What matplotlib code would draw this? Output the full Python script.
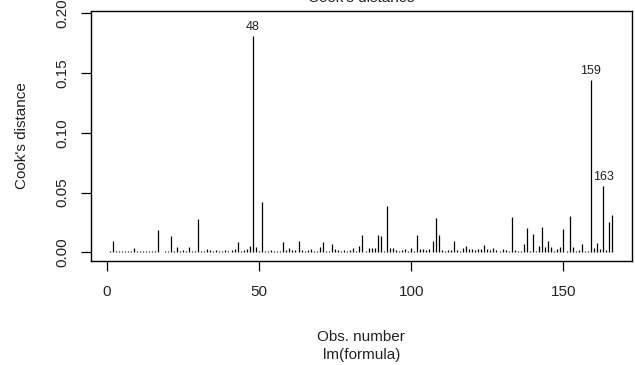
import numpy as np
import matplotlib
matplotlib.use('Agg')
import matplotlib.pyplot as plt

plt.rcParams['font.family'] = ['Liberation Sans', 'DejaVu Sans']

# Cook's distance for each observation of lm(formula), obs 1..166
cooks = [
    0.0010, 0.0095, 0.0008, 0.0012, 0.0012, 0.0015, 0.0012, 0.0012, 0.0035, 0.0015,
    0.0012, 0.0015, 0.0012, 0.0010, 0.0012, 0.0008, 0.0188, 0.0006, 0.0010, 0.0015,
    0.0140, 0.0015, 0.0046, 0.0010, 0.0020, 0.0012, 0.0043, 0.0015, 0.0008, 0.0280,
    0.0010, 0.0015, 0.0025, 0.0018, 0.0010, 0.0018, 0.0015, 0.0010, 0.0018, 0.0010,
    0.0022, 0.0030, 0.0087, 0.0015, 0.0020, 0.0025, 0.0054, 0.1810, 0.0044, 0.0010,
    0.0425, 0.0010, 0.0012, 0.0018, 0.0012, 0.0008, 0.0015, 0.0087, 0.0020, 0.0034,
    0.0020, 0.0020, 0.0098, 0.0020, 0.0008, 0.0018, 0.0030, 0.0008, 0.0012, 0.0047,
    0.0087, 0.0010, 0.0010, 0.0069, 0.0030, 0.0020, 0.0008, 0.0020, 0.0010, 0.0018,
    0.0037, 0.0008, 0.0054, 0.0149, 0.0010, 0.0037, 0.0037, 0.0037, 0.0149, 0.0141,
    0.0010, 0.0387, 0.0037, 0.0037, 0.0018, 0.0010, 0.0020, 0.0025, 0.0010, 0.0035,
    0.0010, 0.0149, 0.0030, 0.0030, 0.0020, 0.0025, 0.0096, 0.0288, 0.0149, 0.0018,
    0.0010, 0.0024, 0.0024, 0.0096, 0.0020, 0.0010, 0.0035, 0.0050, 0.0026, 0.0026,
    0.0020, 0.0025, 0.0030, 0.0063, 0.0030, 0.0020, 0.0037, 0.0020, 0.0010, 0.0026,
    0.0020, 0.0010, 0.0298, 0.0020, 0.0010, 0.0010, 0.0069, 0.0203, 0.0015, 0.0150,
    0.0010, 0.0054, 0.0210, 0.0046, 0.0097, 0.0046, 0.0010, 0.0030, 0.0046, 0.0195,
    0.0010, 0.0307, 0.0046, 0.0010, 0.0020, 0.0070, 0.0010, 0.0010, 0.1442, 0.0035,
    0.0078, 0.0026, 0.0556, 0.0020, 0.0256, 0.0315,
]
obs = np.arange(1, len(cooks) + 1)

xticks = [0, 50, 100, 150]
yticks = [0.00, 0.05, 0.10, 0.15, 0.20]
ytick_labels = ['0.00', '0.05', '0.10', '0.15', '0.20']
n_label = 3

fig = plt.figure(figsize=(6.35, 3.65), dpi=100)
ax = fig.add_axes([0.1428, 0.2849, 0.852, 0.685])

ax.vlines(obs, 0, cooks, color='black', lw=0.9)

# label the largest values
cooks_arr = np.array(cooks)
top_idx = np.argsort(cooks_arr)[::-1][:n_label]
for i in top_idx:
    ax.annotate(str(obs[i]), (obs[i], cooks_arr[i]), xytext=(0, 2),
                textcoords='offset points', ha='center', va='bottom',
                fontsize=9, color='#222222')

ax.set_xlim(-5.25, 172.4)
ax.set_ylim(-0.0072, 0.2020)
ax.set_xticks(xticks)
ax.set_yticks(yticks)
ax.set_yticklabels(ytick_labels)
ax.tick_params(axis='both', direction='out', length=7, width=0.9,
               labelsize=11, color='black', labelcolor='#222222')
ax.tick_params(axis='x', pad=10)
ax.tick_params(axis='y', pad=8, labelrotation=90)
for t in ax.get_yticklabels():
    t.set_va('center')
for s in ax.spines.values():
    s.set_linewidth(1.0)

cx = (0.1428 + 0.9948) / 2
txt = dict(ha='center', va='center', fontsize=11, color='#222222')
fig.text(cx, 1 - 337 / 365, 'Obs. number', **txt)
fig.text(cx, 1 - 355 / 365, 'lm(formula)', **txt)
fig.text(21.7 / 635, 0.2849 + 0.685 / 2, "Cook's distance", rotation=90, **txt)
fig.text(cx, 1 + 2 / 365, "Cook's distance", **txt)

fig.savefig('out.png', dpi=100)
